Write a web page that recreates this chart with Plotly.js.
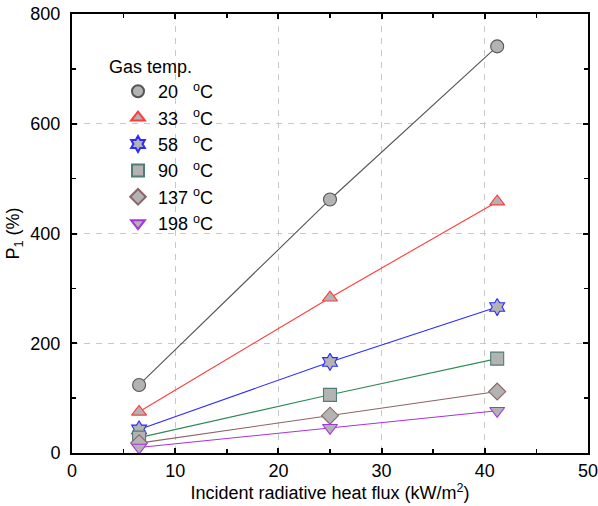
<!DOCTYPE html>
<html>
<head>
<meta charset="utf-8">
<script src="https://cdn.plot.ly/plotly-3.0.1.min.js"></script>
<style>
html,body{margin:0;padding:0;background:#fff;}
#chart{width:598px;height:506px;}
</style>
</head>
<body>
<div id="chart"></div>
<script>
const heatFlux = [6.5, 25, 41.2];
const temps = ['20', '33', '58', '90', '137', '198'];
const p20 = [124, 462, 741];
const p33 = [75, 283, 458];
const p58 = [43, 166, 266];
const p90 = [28, 106, 172];
const p137 = [18, 68, 112];
const p198 = [10, 46, 77];
const seriesValues = [p20, p33, p58, p90, p137, p198];

const lineColors = ['#555555', '#ff3b3b', '#2b2bff', '#2e8b57', '#8b6464', '#a633e0'];
const edgeColors = ['#555555', '#ff3b3b', '#2b2bff', '#4f7d74', '#8b6464', '#a633e0'];
const symbols = ['circle', 'triangle-up', 'hexagram', 'square', 'diamond', 'triangle-down'];
const NB = '\u00A0';
const labelPad = [NB + NB + NB, NB + NB + NB, NB + NB + NB, NB + NB + NB, NB, NB];

const FONT = 'Liberation Sans, Arial, sans-serif';

const traces = [];
seriesValues.forEach((vals, i) => {
  traces.push({
    x: heatFlux, y: vals, mode: 'lines', type: 'scatter',
    line: {color: lineColors[i], width: 1.1},
    showlegend: false, hoverinfo: 'skip'
  });
});
seriesValues.forEach((vals, i) => {
  traces.push({
    x: heatFlux, y: vals, mode: 'markers', type: 'scatter',
    name: temps[i] + labelPad[i] + '<sup>o</sup>C',
    marker: {symbol: symbols[i], size: 13, color: '#b3b3b3',
             line: {color: edgeColors[i], width: 1.1}}
  });
});

const axisCommon = {
  showline: true, linecolor: '#000', linewidth: 2, mirror: 'ticks',
  ticks: 'inside', ticklen: 5, tickwidth: 2, tickcolor: '#000',
  showgrid: true, gridcolor: '#c8c8c8', griddash: '6px,6px', gridwidth: 1,
  zeroline: false, ticklabeloverflow: 'allow',
  tickfont: {family: FONT, size: 18, color: '#000'},
  minor: {ticks: 'inside', ticklen: 4, tickwidth: 1.5, tickcolor: '#000', showgrid: false}
};

const layout = {
  width: 598, height: 506,
  margin: {l: 72, r: 10, t: 14, b: 53},
  paper_bgcolor: '#fff', plot_bgcolor: '#fff',
  font: {family: FONT, color: '#000'},
  xaxis: Object.assign({}, axisCommon, {
    range: [0, 50], dtick: 10, tick0: 0,
    minor: Object.assign({}, axisCommon.minor, {dtick: 5}),
    title: {text: 'Incident radiative heat flux (kW/m<sup>2</sup>)', font: {family: FONT, size: 18}, standoff: 6}
  }),
  yaxis: Object.assign({}, axisCommon, {
    range: [0, 800], dtick: 200, tick0: 0,
    ticklabelstandoff: 6,
    minor: Object.assign({}, axisCommon.minor, {dtick: 100}),
    title: {text: 'P<sub>1</sub> (%)', font: {family: FONT, size: 18}, standoff: 6}
  }),
  legend: {
    x: (118 - 72) / 516, y: (453 - 73) / 439, xanchor: 'left', yanchor: 'top',
    bgcolor: 'rgba(0,0,0,0)',
    font: {family: FONT, size: 18},
    itemsizing: 'constant'
  },
  annotations: [{
    text: 'Gas temp.', xref: 'paper', yref: 'paper',
    x: (107 - 72) / 516, y: (453 - 67) / 439, xanchor: 'left', yanchor: 'middle',
    showarrow: false, font: {family: FONT, size: 18, color: '#000'}
  }],
  showlegend: true
};

Plotly.newPlot('chart', traces, layout, {displayModeBar: false, staticPlot: true});
</script>
</body>
</html>
